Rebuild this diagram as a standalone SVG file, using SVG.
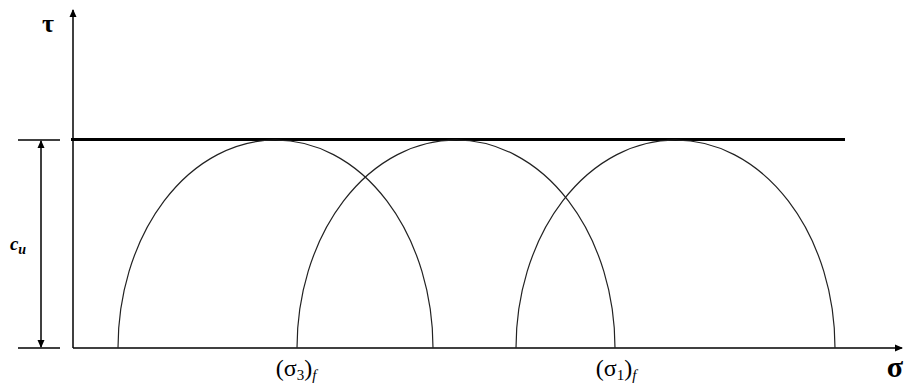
<svg xmlns="http://www.w3.org/2000/svg" width="919" height="385" viewBox="0 0 919 385">
<defs>
<marker id="ah" markerWidth="8" markerHeight="9" refX="7" refY="4.5" orient="auto" markerUnits="userSpaceOnUse">
<path d="M0,1 L8,4.5 L0,8 Z" fill="#000"/>
</marker>
</defs>
<style>
.ln{stroke:#000;stroke-width:1.5;fill:none}
.thin{stroke:#222;stroke-width:1.2;fill:none}
.lbl{font-family:'Liberation Serif','DejaVu Serif',serif;fill:#000}
</style>
<rect width="919" height="385" fill="#fff"/>
<g id="axes">
<line class="ln" x1="73" y1="348" x2="73" y2="10" marker-end="url(#ah)"/>
<line class="ln" x1="73" y1="348" x2="902" y2="348" marker-end="url(#ah)"/>
<text class="lbl" x="48" y="32" font-size="26" font-weight="bold" text-anchor="middle">τ</text>
<text class="lbl" x="895" y="377" font-size="30" font-weight="bold" text-anchor="middle">σ</text>
</g>
<g id="envelope">
<line x1="71" y1="139.5" x2="845" y2="139.5" stroke="#000" stroke-width="3"/>
</g>
<g id="circles">
<path class="thin" d="M118,348 A157.5,208 0 0 1 433,348"/>
<path class="thin" d="M297,348 A159,208 0 0 1 615,348"/>
<path class="thin" d="M516,348 A159.5,208 0 0 1 835,348"/>
</g>
<g id="dimension">
<line class="ln" x1="18" y1="140" x2="60" y2="140"/>
<line class="ln" x1="18" y1="348" x2="60" y2="348"/>
<line class="ln" x1="41" y1="244" x2="41" y2="141" marker-end="url(#ah)"/>
<line class="ln" x1="41" y1="244" x2="41" y2="347" marker-end="url(#ah)"/>
<text class="lbl" x="18" y="250" font-size="19" font-style="italic" font-weight="bold" text-anchor="middle">c<tspan font-size="14" dy="4">u</tspan></text>
</g>
<g id="labels">
<text class="lbl" x="296" y="376" font-size="24" text-anchor="middle">(σ<tspan font-size="15" dy="4">3</tspan><tspan dy="-4">)</tspan><tspan font-size="15" font-style="italic" dy="4">f</tspan></text>
<text class="lbl" x="616" y="376" font-size="24" text-anchor="middle">(σ<tspan font-size="15" dy="4">1</tspan><tspan dy="-4">)</tspan><tspan font-size="15" font-style="italic" dy="4">f</tspan></text>
</g>
</svg>
